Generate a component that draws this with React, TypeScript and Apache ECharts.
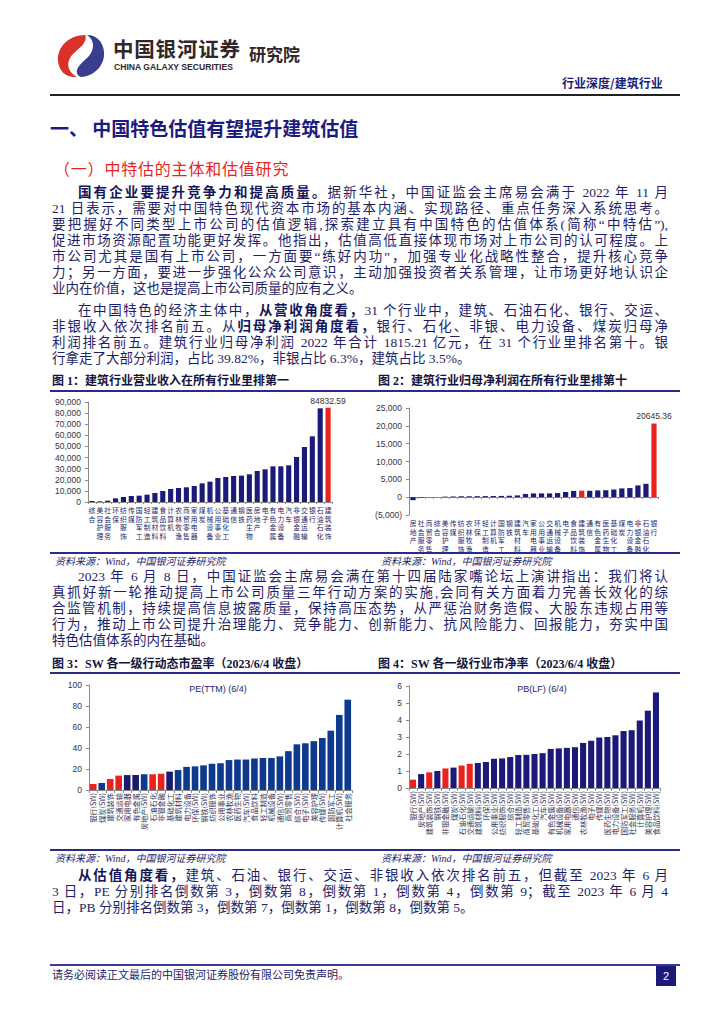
import React, { useEffect, useRef } from "react";
import * as echarts from "echarts";

// ---------- data ----------
const revCategories = ["综合","美容护理","社会服务","环保","纺织服饰","传媒","国防军工","轻工制造","建筑材料","食品饮料","计算机","农林牧渔","商贸零售","家用电器","煤炭","机械设备","公用事业","基础化工","通信","钢铁","医药生物","房地产","电子","有色金属","电力设备","汽车","非银金融","交通运输","银行","石油石化","建筑装饰"];
const revValues = [900, 600, 1200, 3300, 4500, 5400, 5700, 6600, 8100, 9900, 11700, 12600, 13200, 14400, 16800, 18300, 21600, 22500, 23400, 23700, 24900, 27900, 29400, 32100, 32100, 33000, 40500, 49500, 59100, 84300, 84832.59];
const revHighlight = ["建筑装饰"];

const profitCategories = ["房地产","社会服务","商贸零售","综合","美容护理","传媒","纺织服饰","农林牧渔","环保","轻工制造","计算机","国防军工","钢铁","建筑材料","汽车","家用电器","公用事业","交通运输","机械设备","电子","食品饮料","建筑装饰","通信","有色金属","医药生物","基础化工","煤炭","电力设备","非银金融","石油石化","银行"];
const profitValues = [-850, -150, 30, 20, 150, 200, 250, 250, 280, 300, 320, 350, 400, 500, 900, 1050, 1050, 1050, 1150, 1450, 1750, 1815.21, 1800, 1900, 1950, 2150, 2450, 2550, 3300, 3750, 20645.36];
const profitHighlight = ["建筑装饰", "银行"];

const peCategories = ["银行(SW)","煤炭(SW)","建筑装饰","交通运输","家用电器","有色金属","房地产(SW)","石油石化","非银金融","基础化工","建筑材料","电力设备","环保(SW)","钢铁(SW)","纺织服饰","公用事业","农林牧渔","医药生物","汽车(SW)","食品饮料","轻工制造","机械设备","通信(SW)","商贸零售","综合(SW)","电子(SW)","美容护理","传媒(SW)","国防军工","计算机(SW)","社会服务"];
const peValues = [5.7, 6.7, 10.5, 13.7, 14.2, 14.3, 15, 15, 15.5, 17.5, 19, 22, 22.5, 23.5, 25, 25.5, 28.5, 29, 29, 30, 30.5, 30.5, 32, 37, 43.5, 44.5, 46.5, 49.5, 56.5, 71.5, 86];
const peRed = ["银行(SW)", "建筑装饰", "交通运输", "石油石化", "非银金融"];
const peDark = ["家用电器", "有色金属", "基础化工"];

const pbCategories = ["银行(SW)","房地产(SW)","建筑装饰(SW)","钢铁(SW)","非银金融(SW)","煤炭(SW)","石油石化(SW)","交通运输(SW)","建筑材料(SW)","环保(SW)","公用事业(SW)","纺织服饰(SW)","综合(SW)","轻工制造(SW)","商贸零售(SW)","基础化工(SW)","汽车(SW)","有色金属(SW)","机械设备(SW)","家用电器(SW)","通信(SW)","农林牧渔(SW)","电子(SW)","传媒(SW)","医药生物(SW)","电力设备(SW)","国防军工(SW)","社会服务(SW)","计算机(SW)","美容护理(SW)","食品饮料(SW)"];
const pbValues = [0.49, 0.82, 0.92, 1.0, 1.15, 1.2, 1.32, 1.42, 1.47, 1.53, 1.72, 1.74, 1.82, 1.94, 1.95, 2.0, 2.05, 2.3, 2.33, 2.36, 2.4, 2.65, 2.78, 2.97, 3.0, 3.1, 3.35, 3.4, 3.97, 4.55, 5.62];
const pbRed = ["银行(SW)", "建筑装饰(SW)", "非银金融(SW)", "石油石化(SW)", "交通运输(SW)"];

// ---------- styles ----------
const SERIF = "'Liberation Serif', 'Noto Sans CJK SC', serif";
const SANS = "'Liberation Sans', Arial, 'Noto Sans CJK SC', sans-serif";
const BODY = "#1e1e6a";
const BOLD = "#15155a";
const NAVY = "#1a1a78";
const RED = "#e8231e";
const AXIS = "#8a8a8a";

const fmtThousands = (v: number) => {
  const s = Math.abs(v).toLocaleString("en-US");
  return v < 0 ? `(${s})` : s;
};
const vertical = (v: string) => v.split("").join("\n");

function baseAxes(labelFmt: any, min: number, max: number, interval: number) {
  return {
    yAxis: {
      type: "value",
      min,
      max,
      interval,
      axisLine: { show: true, lineStyle: { color: AXIS, width: 1 } },
      axisTick: { show: true, length: 3, lineStyle: { color: AXIS } },
      splitLine: { show: false },
      axisLabel: { formatter: labelFmt, fontSize: 8.5, color: "#333344", fontFamily: SANS, margin: 7 },
    },
  };
}

const stackedLabel = { interval: 0, formatter: vertical, fontSize: 6.8, lineHeight: 8.5, color: BODY, fontFamily: "'Noto Sans CJK SC'", margin: 4, verticalAlign: "top" };

function revOption() {
  return {
    animation: false,
    grid: { left: 38, right: 28, top: 9, bottom: 51 },
    xAxis: {
      type: "category",
      data: revCategories,
      axisLine: { lineStyle: { color: AXIS } },
      axisTick: { show: true, length: 2, lineStyle: { color: AXIS } },
      axisLabel: stackedLabel,
    },
    ...baseAxes(fmtThousands, 0, 90000, 10000),
    series: [{
      type: "bar",
      barCategoryGap: "35%",
      data: revValues.map((v, i) => ({
        value: v,
        itemStyle: { color: revHighlight.includes(revCategories[i]) ? RED : NAVY },
        label: i === revValues.length - 1 ? { show: true, position: "top", distance: 2, formatter: () => String(v), fontSize: 8.5, color: "#333", fontFamily: SANS } : { show: false },
      })),
    }],
  };
}

function profitOption() {
  return {
    animation: false,
    grid: { left: 37, right: 24, top: 15, bottom: 24 },
    xAxis: {
      type: "category",
      data: profitCategories,
      axisLine: { onZero: true, lineStyle: { color: AXIS } },
      axisTick: { show: true, length: 2, lineStyle: { color: AXIS } },
      axisLabel: stackedLabel,
    },
    ...baseAxes(fmtThousands, -5000, 25000, 5000),
    series: [{
      type: "bar",
      barCategoryGap: "35%",
      data: profitValues.map((v, i) => ({
        value: v,
        itemStyle: { color: profitHighlight.includes(profitCategories[i]) ? RED : NAVY },
        label: i === profitValues.length - 1 ? { show: true, position: "top", distance: 3, formatter: () => String(v), fontSize: 8.5, color: "#333", fontFamily: SANS } : { show: false },
      })),
    }],
  };
}

function valuationOption(title: string, titleX: number, cats: string[], vals: number[], colorOf: (c: string) => string, max: number, interval: number, grid: any, gap: string) {
  return {
    animation: false,
    title: { text: title, left: titleX, top: 4, textAlign: "center", textStyle: { fontSize: 9, fontWeight: "normal", color: BODY, fontFamily: SANS } },
    grid,
    xAxis: {
      type: "category",
      data: cats,
      axisLine: { lineStyle: { color: AXIS } },
      axisTick: { show: true, length: 3, lineStyle: { color: AXIS } },
      axisLabel: { interval: 0, rotate: 90, fontSize: 7.2, color: "#333355", fontFamily: "'Noto Sans CJK SC'", margin: 3 },
    },
    ...baseAxes((v: number) => String(v), 0, max, interval),
    series: [{
      type: "bar",
      barCategoryGap: gap,
      data: vals.map((v, i) => ({ value: v, itemStyle: { color: colorOf(cats[i]) } })),
    }],
  };
}

function Chart({ option, style }: { option: any; style: React.CSSProperties }) {
  const ref = useRef<HTMLDivElement>(null);
  useEffect(() => {
    const c = echarts.init(ref.current!, undefined, { renderer: "svg" });
    c.setOption(option);
    return () => c.dispose();
  }, []);
  return <div ref={ref} style={{ position: "absolute", ...style }} />;
}

type Part = string | { b: string };
function TextLine({ y, parts, indent = false, justify = true }: { y: number; parts: Part[]; indent?: boolean; justify?: boolean }) {
  const left = indent ? 78 : 52;
  return (
    <div style={{
      position: "absolute", left, top: y - 8, width: 668 - left, height: 16, lineHeight: "16px",
      fontSize: 13.5, color: BODY, fontFamily: SERIF,
      textAlign: justify ? "justify" : "left", textAlignLast: justify ? "justify" : "left",
    } as React.CSSProperties}>
      {parts.map((p, i) => typeof p === "string" ? <span key={i}>{p}</span> : <b key={i} style={{ color: BOLD }}>{p.b}</b>)}
    </div>
  );
}

function Para({ y, lines }: { y: number; lines: Part[][] }) {
  return <>{lines.map((l, i) => <TextLine key={i} y={y + i * 16} parts={l} indent={i === 0} justify={i < lines.length - 1} />)}</>;
}

function abs(x: number, y: number, extra: React.CSSProperties = {}): React.CSSProperties {
  return { position: "absolute", left: x, top: y, ...extra };
}

function Logo() {
  return (
    <svg style={abs(55, 33)} width={52} height={46} viewBox="0 0 52 46">
      <path d="M30 2 C14 2 2 14 3 28 C4 39 12 45 22 44 C14 40 11 32 15 25 C19 18 27 15 30 8 C31 5 31 3 30 2 Z" fill="#d8322a" />
      <path d="M26 44 C40 43 50 32 49 19 C48 8 41 2 32 2 C38 6 40 13 36 20 C32 27 24 30 22 37 C21 40 23 43 26 44 Z" fill="#3a3d8f" />
    </svg>
  );
}

function FigTitle({ x, y, text }: { x: number; y: number; text: string }) {
  return <div style={abs(x, y - 8, { fontSize: 12, lineHeight: "16px", fontWeight: 700, color: "#14143c", fontFamily: SERIF, whiteSpace: "nowrap" })}>{text}</div>;
}
function Source({ x, y }: { x: number; y: number }) {
  return <div style={abs(x, y - 7, { fontSize: 10, lineHeight: "14px", fontStyle: "italic", color: BODY, fontFamily: SERIF, whiteSpace: "nowrap" })}>资料来源：Wind，中国银河证券研究院</div>;
}
function HLine({ y, color = "#2a2a8a", h = 2 }: { y: number; color?: string; h?: number }) {
  return <div style={abs(50, y - h / 2, { width: 630, height: h, background: color })} />;
}

export default function App() {
  return (
    <div style={{ position: "absolute", left: 0, top: 0, width: 724, height: 1024, background: "#fff", overflow: "hidden", fontFamily: SERIF }}>
      {/* header */}
      <Logo />
      <div style={abs(113, 36, { fontSize: 20.5, lineHeight: "24px", fontWeight: 700, color: "#332626", fontFamily: "'Noto Sans CJK SC'", letterSpacing: 0.8, whiteSpace: "nowrap" })}>中国银河证券</div>
      <div style={abs(114, 62, { fontSize: 8.6, lineHeight: "11px", fontWeight: 700, color: "#332626", fontFamily: SANS, whiteSpace: "nowrap" })}>CHINA GALAXY SECURITIES</div>
      <div style={abs(249, 44, { fontSize: 17, lineHeight: "20px", fontWeight: 700, color: "#332626", fontFamily: "'Noto Sans CJK SC'", whiteSpace: "nowrap" })}>研究院</div>
      <div style={abs(562, 75, { fontSize: 12, lineHeight: "16px", fontWeight: 700, color: NAVY, fontFamily: "'Noto Sans CJK SC'", whiteSpace: "nowrap" })}>行业深度/建筑行业</div>
      <HLine y={95} color="#222" h={2} />

      {/* headings */}
      <div style={abs(50, 116, { fontSize: 19, lineHeight: "24px", fontWeight: 700, color: "#1c1c80", fontFamily: "'Noto Sans CJK SC'", whiteSpace: "nowrap" })}>一、 中国特色估值有望提升建筑估值</div>
      <div style={abs(54, 157, { fontSize: 16, lineHeight: "22px", color: "#e8251f", fontFamily: "'Noto Sans CJK SC'", letterSpacing: 0.8, whiteSpace: "nowrap" })}>（一）中特估的主体和估值研究</div>

      <Para y={193} lines={[
        [{ b: "国有企业要提升竞争力和提高质量。" }, "据新华社，中国证监会主席易会满于 2022 年 11 月"],
        ["21 日表示，需要对中国特色现代资本市场的基本内涵、实现路径、重点任务深入系统思考。"],
        ["要把握好不同类型上市公司的估值逻辑,探索建立具有中国特色的估值体系(简称“中特估”),"],
        ["促进市场资源配置功能更好发挥。他指出，估值高低直接体现市场对上市公司的认可程度。上"],
        ["市公司尤其是国有上市公司，一方面要“练好内功”，加强专业化战略性整合，提升核心竞争"],
        ["力；另一方面，要进一步强化公众公司意识，主动加强投资者关系管理，让市场更好地认识企"],
        ["业内在价值，这也是提高上市公司质量的应有之义。"],
      ]} />
      <Para y={311} lines={[
        ["在中国特色的经济主体中，", { b: "从营收角度看，" }, "31 个行业中，建筑、石油石化、银行、交运、"],
        ["非银收入依次排名前五。从", { b: "归母净利润角度看，" }, "银行、石化、非银、电力设备、煤炭归母净"],
        ["利润排名前五。建筑行业归母净利润 2022 年合计 1815.21 亿元，在 31 个行业里排名第十。银"],
        ["行拿走了大部分利润，占比 39.82%，非银占比 6.3%，建筑占比 3.5%。"],
      ]} />

      {/* figures 1 & 2 */}
      <FigTitle x={52} y={381} text="图 1：建筑行业营业收入在所有行业里排第一" />
      <FigTitle x={378} y={381} text="图 2：建筑行业归母净利润在所有行业里排第十" />
      <HLine y={391} />
      <Chart option={revOption()} style={{ left: 50, top: 393, width: 310, height: 160 }} />
      <Chart option={profitOption()} style={{ left: 372, top: 393, width: 310, height: 160 }} />
      <HLine y={553} />
      <Source x={55} y={562} />
      <Source x={381} y={562} />

      <Para y={577} lines={[
        ["2023 年 6 月 8 日，中国证监会主席易会满在第十四届陆家嘴论坛上演讲指出：我们将认"],
        ["真抓好新一轮推动提高上市公司质量三年行动方案的实施,会同有关方面着力完善长效化的综"],
        ["合监管机制，持续提高信息披露质量，保持高压态势，从严惩治财务造假、大股东违规占用等"],
        ["行为，推动上市公司提升治理能力、竞争能力、创新能力、抗风险能力、回报能力，夯实中国"],
        ["特色估值体系的内在基础。"],
      ]} />

      {/* figures 3 & 4 */}
      <FigTitle x={52} y={664} text="图 3：SW 各一级行动态市盈率（2023/6/4 收盘）" />
      <FigTitle x={378} y={664} text="图 4：SW 各一级行业市净率（2023/6/4 收盘）" />
      <HLine y={673} />
      <Chart option={valuationOption("PE(TTM) (6/4)", 163, peCategories, peValues,
        (c) => peRed.includes(c) ? RED : peDark.includes(c) ? "#1a1a6e" : "#0e3a8e", 100, 20,
        { left: 39, right: 8, top: 10, bottom: 60 }, "22%")} style={{ left: 50, top: 675, width: 310, height: 175 }} />
      <Chart option={valuationOption("PB(LF) (6/4)", 165, pbCategories, pbValues,
        (c) => pbRed.includes(c) ? RED : "#1c1a78", 6, 1,
        { left: 37, right: 22, top: 11, bottom: 62 }, "25%")} style={{ left: 372, top: 675, width: 310, height: 175 }} />
      <HLine y={850} />
      <Source x={55} y={859} />
      <Source x={381} y={859} />

      <Para y={876} lines={[
        [{ b: "从估值角度看，" }, "建筑、石油、银行、交运、非银收入依次排名前五，但截至 2023 年 6 月"],
        ["3 日，PE 分别排名倒数第 3，倒数第 8，倒数第 1，倒数第 4，倒数第 9；截至 2023 年 6 月 4"],
        ["日，PB 分别排名倒数第 3，倒数第 7，倒数第 1，倒数第 8，倒数第 5。"],
      ]} />

      {/* footer */}
      <HLine y={965} color="#3a3a9a" h={2} />
      <div style={abs(52, 967, { fontSize: 11, lineHeight: "14px", color: BODY, fontFamily: "'Noto Sans CJK SC'", whiteSpace: "nowrap" })}>请务必阅读正文最后的中国银河证券股份有限公司免责声明。</div>
      <div style={abs(656, 966, { width: 20, height: 20, background: "#1a1a7a", color: "#fff", fontSize: 11, lineHeight: "20px", textAlign: "center", fontFamily: SANS })}>2</div>
    </div>
  );
}
